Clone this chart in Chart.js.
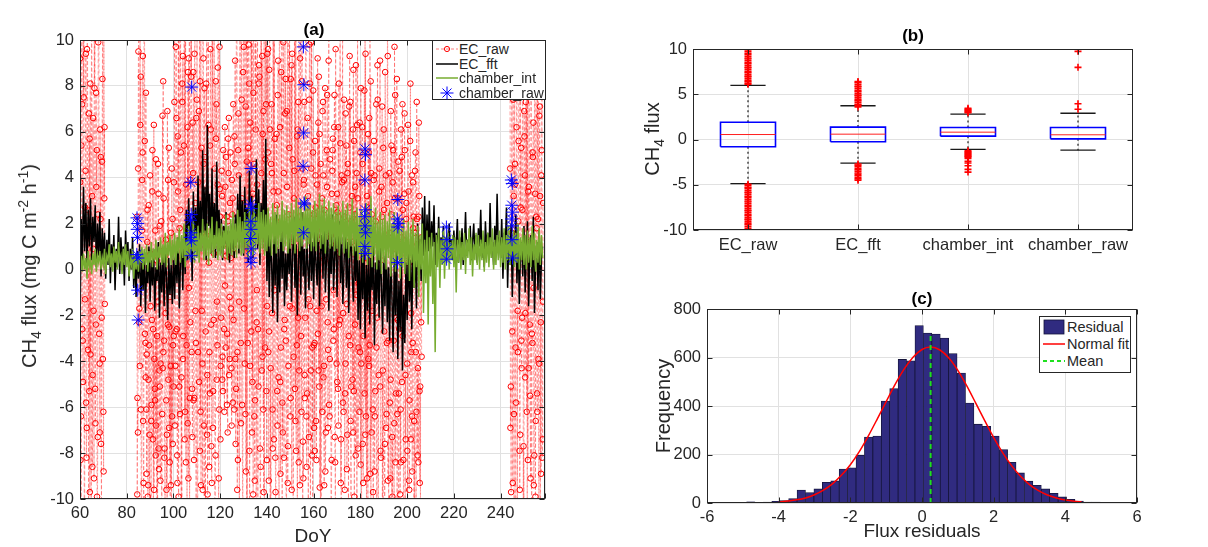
<!DOCTYPE html>
<html>
<head>
<meta charset="utf-8">
<script src="https://cdn.jsdelivr.net/npm/chart.js@4.4.1/dist/chart.umd.min.js"></script>
<style>
  html, body { margin: 0; padding: 0; background: #fff; }
  #fig { position: relative; width: 1208px; height: 547px; overflow: hidden;
         font-family: "Liberation Sans", Arial, Helvetica, sans-serif; color: #262626; }
  canvas { position: absolute; }
  .lbl { position: absolute; white-space: nowrap; line-height: 1; }
  .title { font-weight: bold; font-size: 17px; color: #000; transform: translate(-50%, -50%); }
  .xlab { font-size: 19px; transform: translate(-50%, -50%); }
  .ylab { font-size: 20px; transform: translate(-50%, -50%) rotate(-90deg); }
  .ylab sub, .ylab sup { font-size: 70%; line-height: 0; }
  .legend { position: absolute; background: #fff; border: 1px solid #262626; box-sizing: border-box; }
  .legend .row { position: absolute; left: 2px; display: flex; align-items: center; white-space: nowrap; }
  .legend svg { flex: none; }
</style>
</head>
<body>
<div id="fig">
  <canvas id="chartA" width="580" height="547" style="left:0;top:0"></canvas>
  <canvas id="chartB" width="608" height="280" style="left:600px;top:0"></canvas>
  <canvas id="chartC" width="608" height="267" style="left:600px;top:280px"></canvas>

  <div class="lbl title" style="left:314px;top:29px">(a)</div>
  <div class="lbl xlab" style="left:313px;top:535px">DoY</div>
  <div class="lbl ylab" style="left:29px;top:266px">CH<sub>4</sub> flux (mg C m<sup>-2</sup> h<sup>-1</sup>)</div>

  <div class="lbl title" style="left:913px;top:35px">(b)</div>
  <div class="lbl ylab" style="left:652px;top:139px">CH<sub>4</sub> flux</div>

  <div class="lbl title" style="left:922px;top:298px">(c)</div>
  <div class="lbl ylab" style="left:663px;top:406px">Frequency</div>
  <div class="lbl xlab" style="left:922px;top:530px">Flux residuals</div>

  <div class="legend" style="left:432px;top:40px;width:114px;height:60px;font-size:14px">
    <div class="row" style="top:0px;height:16px"><svg width="24" height="14"><line x1="1" y1="7" x2="23" y2="7" stroke="rgba(255,0,0,0.5)" stroke-dasharray="3,2"/><circle cx="12" cy="7" r="2.6" fill="none" stroke="#f00"/></svg><span>EC_raw</span></div>
    <div class="row" style="top:14.5px;height:16px"><svg width="24" height="14"><line x1="1" y1="7" x2="23" y2="7" stroke="#000" stroke-width="1.5"/></svg><span>EC_fft</span></div>
    <div class="row" style="top:29px;height:16px"><svg width="24" height="14"><line x1="1" y1="7" x2="23" y2="7" stroke="#77ac30" stroke-width="1.5"/></svg><span>chamber_int</span></div>
    <div class="row" style="top:43.5px;height:16px"><svg width="24" height="14"><g stroke="#0000ff" stroke-width="1"><line x1="12" y1="0.5" x2="12" y2="13.5"/><line x1="5.5" y1="7" x2="18.5" y2="7"/><line x1="7.5" y1="2.5" x2="16.5" y2="11.5"/><line x1="16.5" y1="2.5" x2="7.5" y2="11.5"/></g></svg><span>chamber_raw</span></div>
  </div>

  <div class="legend" style="left:1039px;top:316px;width:92px;height:57px;font-size:14.5px">
    <div class="row" style="top:2px"><svg width="25" height="16"><rect x="2" y="1" width="20" height="14" fill="#302b80" stroke="#15153a" stroke-width="0.8"/></svg><span>Residual</span></div>
    <div class="row" style="top:19px"><svg width="25" height="16"><line x1="1" y1="8" x2="23" y2="8" stroke="#ff0000" stroke-width="1.5"/></svg><span>Normal fit</span></div>
    <div class="row" style="top:36px"><svg width="25" height="16"><line x1="1" y1="8" x2="23" y2="8" stroke="#1fe01f" stroke-width="2" stroke-dasharray="4,3"/></svg><span>Mean</span></div>
  </div>
</div>

<script>
// ===== (a) time series, DoY 60-259 =====

// EC_raw: three interleaved sample sets, 0.4 day apart within each set, pieces start at these days
const RAW_STEP = 0.4;
const ecRawStart = [60.0, 84.4, 88.4, 100.4, 108.4, 120.4, 126.4, 140.4, 160.4, 180.4, 244.0];
const ecRawStart2 = [60.2, 84.6, 88.6, 100.6, 108.6, 120.6, 126.6, 140.6, 160.6, 180.6, 244.2];
const ecRawStart3 = [60.1, 84.5, 88.5, 100.5, 108.5, 120.5, 126.5, 140.5, 160.5, 180.5, 244.1];
const ecRawRows = [
  [9.2, -6.4, 14, -3.1, 7.5, -11, 4.3, -8.2, 12, 1.4, -5.3, 8.1, -13, 3.2, 6.6, -9.1, 11, -2.4, 5.2, -7.3, 15, -4.1, 2.2, -10.4, 8.3, -6.2, 3.1],
  [2.3, -7.1, 11, -4.2, 8.4, -12, 5.1, -9.3, 13, -3.2],
  [-6.1, 1.2, -9.4, -3.3, 4.1, -11, -2.2, -7.4, 6.3, -5.2, -8.1, 0.4, -12, 3.3, -4.4, -9.2, 2.1, -6.3, 8.2, -3.1, -10.2, 1.3, -7.2, -2.4, 5.3, -8.4, -4.2, -13, 2.2, -5.1],
  [7.3, -4.2, 12, -8.1, 3.4, 10.2, -6.3, 5.1, -11, 9.3, 1.2, -7.4, 14, -3.3, 6.2, -9.1, 11, -2.3, 8.4, -5.2],
  [4.2, -8.3, 10.1, -3.2, 7.4, -10.3, 2.1, 12, -6.2, 5.3, -4.1, 9.2, -12, 3.4, 8.1, -7.2, 11, 0.3, -5.4, 6.1, -9.3, 13, -2.2, 4.4, -8.1, 7.2, -3.3, 10.4, -6.1, 2.3],
  [-2.1, 3.2, -5.3, 1.1, 6.2, -3.4, 2.3, -7.1, 4.2, -1.2, 5.1, -4.3, 2.4, 7.2, -6.1],
  [9.1, -5.2, 13, -8.3, 4.1, 11, -3.2, 7.4, -10.1, 15, 2.2, -6.3, 10.2, -12, 5.3, 8.1, -4.2, 12, -7.1, 3.3, 14, -9.2, 6.1, -2.3, 11, -5.1, 8.4, -11, 4.2, 9.3, -6.1, 13, -3.4, 7.2, -8.3],
  [5.1, -9.2, 11, -4.3, 7.2, -6.1, 3.4, 12, -8.2, 2.1, -5.3, 9.1, -11, 6.2, -3.4, 10.3, -7.1, 4.2, -2.2, 8.3, -10.1, 13, -4.2, 5.3, -6.4, 1.2, 9.4, -12, 3.1, -5.2, 11, -3.3, 6.1, -8.4, 2.3, 10.1, -6.2, 4.4, -9.1, 7.3, -2.1, 12, -5.4, 3.2, -7.3, 8.1, -4.4, 14, -10.2, 2.4],
  [-3.2, 4.1, -8.3, 2.2, 6.4, -5.1, 1.3, -10.2, 3.1, 7.3, -4.2, 0.4, -7.1, 5.2, -2.3, 9.1, -6.4, 2.1, -11, 4.3, -3.1, 6.2, -8.4, 1.1, 3.3, -5.2, 8.1, -2.2, -9.3, 4.1, 11, -6.2, 2.3, -4.1, 5.4, -7.2, 1.2, 7.1, -3.3, -12, 3.2, 6.1, -5.3, 2.4, -8.1, 4.2, 10.1, -3.4, -6.2, 5.1],
  [-4.1, 6.2, -9.3, 2.1, 12, -6.4, 3.2, -11, 5.1, -3.3, 8.2, -7.1, 1.3, -10.2, 4.1, -5.3, 7.2, -2.1, -13, 3.4, 9.1, -8.2, 2.3, -4.4, 6.1, -12, 1.2, -6.3, 11, -3.1, 4.2, -9.1, 2.4, -7.3, 5.2, -11, 3.1, -5.4, 8.3, -2.2, -10.1, 4.3, -6.1, 1.4, 7.2, -8.3, 3.3, -12, 2.2, -4.1, 6.3, -9.2, 0.3, -7.4, 4.1, -3.2, 2.3, -10.3, 5.1, -6.2, 1.1, -8.4, 3.2, -5.1, -2.3],
  [8.2, -5.1, 12, -9.3, 3.2, 10.1, -3.4, 6.2, -11, 2.1, 14, -7.2, 5.3, -2.1, 9.2, -12, 4.1, 7.3, -6.2, 11, -4.3, 1.2, -9.1, 13, -3.2, 6.4, -8.1, 3.3, 10.2, -5.4, 2.2, -10.1, 7.1, -2.3, 5.2, -7.4]
];
const ecRawRows2 = [
  [-8.3, 5.4, -2.6, 10.5, -12, 2.7, -5.8, 9.6, -3.5, 6.8, -9.7, 1.9, 12.5, -4.6, -1.8, 7.9, -6.7, 3.6, -11.5, 9.9, -2.8, 6.1, -7.6, 4.7, -3.9, 11.2, -1.5],
  [-5.6, 9.5, -1.7, 6.3, -10.8, 3.9, -6.6, 12.3, -2.8, 7.7],
  [-3.7, -9.9, 2.8, -7.2, -1.6, -5.9, 5.2, -11.6, -3.9, 1.7, -6.8, -2.9, 4.6, -8.7, -5.1, 0.8, -12.4, -4.3, 3.1, -7.8, -1.9, -9.6, 6.9, -4.8, -2.5, -10.7, 1.6, -6.4, -3.3, 3.8],
  [-6.8, 9.7, -2.6, 5.8, -9.9, 1.8, 12.6, -4.7, 7.3, -2.9, 10.8, -6.2, 3.7, -11.8, 8.6, -0.8, -5.6, 13.4, -3.6, 6.4],
  [-5.7, 9.4, -1.8, 6.6, -11.6, 3.8, -4.9, 8.2, -9.4, 1.6, 11.7, -6.8, 4.9, -2.7, 12.8, -9.8, 6.3, -3.6, 9.6, -7.7, 2.8, -5.3, 10.6, -11.2, 5.7, -1.4, 8.8, -9.1, 3.5, -4.2],
  [4.3, -3.8, 1.7, -6.2, 3.6, 0.6, -2.8, 5.7, -4.6, 2.9, -1.7, 3.9, -5.8, 0.9, 4.6],
  [-7.6, 10.9, -3.6, 6.8, -12.4, 2.9, 11.7, -5.9, 8.6, -1.7, 13.6, -8.8, 4.7, -3.2, 9.8, -10.6, 1.8, 12.9, -4.9, 7.7, -6.4, 10.3, -11.9, 3.7, -2.6, 8.9, -7.8, 12.2, -4.4, 5.9, -9.7, 2.6, 11.6, -5.3, 9.4],
  [-3.6, 8.7, -10.8, 4.6, -1.9, 11.8, -7.4, 5.7, -12.6, 2.8, 7.6, -4.7, 12.4, -8.9, 1.7, -5.8, 9.9, -2.6, 6.8, -11.4, 3.6, -7.7, 10.7, -1.6, 8.3, -9.6, 4.8, -3.8, 12.7, -6.6, 1.9, -10.9, 7.3, -4.4, 9.2, -2.9, 11.4, -7.5, 3.9, -5.6, 10.5, -8.6, 6.6, -1.3, 9.8, -11.7, 4.4, -3.4, 7.8, -6.9],
  [5.6, -6.6, 3.7, -2.8, 8.4, -9.5, 4.6, -1.6, 6.9, -4.7, 2.6, -8.8, 1.4, 7.6, -3.5, -5.9, 4.8, -10.4, 3.3, 5.7, -2.6, -7.3, 9.6, -4.1, 2.5, -6.8, 0.7, 5.5, -11.7, 3.8, -1.9, 7.4, -5.4, 1.6, -8.7, 4.6, -2.9, 9.3, -6.6, 2.1, -4.8, 8.7, -9.9, 3.6, -1.1, 6.3, -7.8, 1.8, -3.6, 7.9],
  [3.8, -7.6, 1.6, -5.4, 9.4, -10.8, 2.7, -3.9, 6.6, -8.9, 4.2, -1.8, -9.7, 5.6, -6.4, 2.1, -12.2, 7.4, -4.6, 0.9, -7.9, 3.6, -10.6, 5.3, -2.7, 8.6, -6.9, 2.9, -9.2, 1.4, -5.8, 6.9, -11.6, 3.8, -3.1, 9.7, -8.4, 1.9, -6.3, 4.7, -2.6, -9.8, 6.1, -4.9, 2.6, -12.8, 5.2, -7.4, 0.6, -10.4, 3.4, -5.7, 8.1, -3.6, -8.8, 1.8, -6.6, 4.3, -11.3, 2.2, -4.3, 6.4, -9.3, 0.8, -3.8],
  [-6.9, 10.6, -2.7, 7.4, -10.3, 4.6, -5.8, 12.9, -3.6, 8.6, -9.6, 2.7, -4.3, 11.4, -7.7, 5.8, -1.9, 9.8, -11.8, 3.4, 7.6, -5.5, 12.1, -2.8, 4.9, -9.4, 10.7, -6.6, 1.8, 8.4, -3.9, 6.7, -11.1, 4.1, -8.2, 2.9]
];
const ecRawRows3 = [
  [3.8, -10.6, 7.2, -4.9, 12.7, -1.3, 9.4, -6.9, 2.6, -12.3, 5.7, -3.7, 10.8, -8.6, 0.9, 13.6, -5.2, 7.7, -9.9, 2.4, 11.4, -7.1, 4.9, -2.1, 13.9, -8.8, 6.2],
  [-9.8, 4.4, -2.3, 10.6, -6.1, 1.7, 9.3, -11.4, 5.6, -4.7],
  [-8.9, 2.6, -4.8, -10.9, 0.7, -6.6, 3.4, -2.6, -9.6, -5.7, 4.8, -11.3, -1.4, -7.8, 1.9, -4.1, -10.6, 6.7, -3.6, -8.2, 0.6, -5.7, -12.6, 3.9, -6.9, -1.2, -9.4, 4.4, -7.6, -2.9],
  [10.9, -2.7, 6.6, -9.3, 13.1, -5.1, 2.6, -12.7, 8.1, -3.9, 5.4, 11.9, -8.4, 1.6, -6.7, 9.2, -10.9, 3.9, 12.4, -7.3],
  [8.6, -5.6, 2.9, -10.9, 11.8, -3.6, 6.9, -7.9, 13.7, -1.8, -9.6, 4.6, 7.9, -12.2, 1.5, -4.6, 10.9, -8.6, 5.4, -2.4, 12.3, -6.9, 0.7, -10.4, 8.2, -4.8, 3.7, -11.6, 9.7, -7.4],
  [1.4, -4.8, 5.2, -2.6, -0.7, 4.9, -5.9, 2.1, 6.6, -3.9, 0.5, -6.8, 3.1, -2.2, 5.8],
  [-3.9, 12.4, -9.6, 5.2, -1.4, 14.2, -6.7, 3.1, -11.3, 9.7, -4.1, 7.1, -13.4, 11.6, 0.9, -7.9, 6.4, -2.7, 13.3, -9.8, 4.6, -5.7, 10.4, -0.9, -12.7, 8.1, 2.2, -8.6, 14.8, -3.8, 6.9, -10.9, 4.8, 11.8, -1.6],
  [9.6, -2.7, 6.1, -12.1, 4.2, -7.8, 12.9, -0.9, -9.7, 5.9, -6.8, 3.4, 11.2, -4.9, 8.6, -13.1, 1.9, -8.2, 10.4, -3.1, 6.9, -9.3, 2.4, 13.1, -5.6, 8.9, -1.7, -10.6, 4.3, 11.9, -7.9, 5.8, -2.1, 12.6, -9.4, 0.8, 8.2, -11.6, 3.7, -4.6, 10.8, -6.4, 2.7, -12.9, 7.4, -1.6, 9.9, -8.1, 5.1, -3.3],
  [-7.9, 2.7, -1.8, 9.2, -4.4, 5.9, -11.9, 0.6, -6.2, 4.1, -9.4, 7.9, -1.3, 3.6, -6.9, 10.4, -3.9, 1.5, -8.3, 5.2, -0.9, 7.6, -10.8, 2.8, -4.9, 6.2, -2.4, 12.1, -7.4, 1.9, -5.8, 3.9, -9.6, 6.8, -1.5, 4.2, -12.6, 2.7, 7.3, -5.1, 1.2, -7.1, 5.6, -2.4, 8.9, -10.7, 3.1, -0.6, 6.4, -8.5],
  [-11.4, 4.6, -2.9, 7.8, -7.2, 0.5, -9.1, 5.9, -4.2, 10.9, -12.6, 2.4, -6.1, 3.9, -8.8, 1.2, -3.4, 8.9, -10.1, 4.4, -5.1, 0.4, 7.1, -11.9, 2.6, -7.6, 4.1, -3.2, 9.3, -12.4, 1.6, -4.8, 5.4, -9.9, 0.9, -6.7, 7.6, -2.1, -11.2, 3.1, -5.4, 1.1, -8.4, 4.9, -2.9, -13.1, 6.8, -4.6, 2.9, -7.9, 0.3, -9.6, 5.6, -1.9, -6.4, 3.8, -10.9, 1.6, -3.6, 7.3, -8.1, 2.3, -5.3, -11.6, 1.4],
  [4.4, -9.7, 1.6, 11.8, -6.3, 3.7, -12.4, 8.9, -1.8, 5.6, -7.9, 13.4, -3.1, 2.6, -10.6, 6.9, -4.7, 0.9, 9.4, -8.3, 3.6, -2.4, 10.9, -12.1, 5.1, -0.8, 7.8, -9.9, 2.3, -6.2, 12.6, -4.1, 3.2, -8.9, 9.1, -1.4]
];

// EC_fft and chamber_int: one value every 0.5 day, each row covers 10 days from 60, 70, ...
const SERIES_STEP = 0.5;
const ecFftRows = [
  [-2.4, 2.2, 0.3, 3.6, 0.8, 2.9, 0.2, 2.6, 1.0, 3.1, 0.4, 2.3, 1.2, 2.8, 0.1, 2.0, 0.6, 2.5, -0.3, 1.8],
  [0.5, 1.6, -0.4, 1.3, 0.2, 2.2, -0.6, 1.1, 0.3, 1.5, -0.9, 0.9, 0.1, 2.3, -0.2, 1.4, 0.4, 1.0, -0.7, 1.7],
  [0.3, 1.2, -0.5, 0.9, 0.0, 1.4, -0.8, 0.6, -1.2, 0.8, -0.4, 1.1, -1.6, 0.3, -0.9, 0.7, -1.9, 0.2, -0.6, 1.0],
  [-1.4, 0.4, -0.7, 0.9, -1.8, 0.1, -0.5, 1.2, -2.1, 0.3, -1.0, 0.6, -1.6, 0.8, -0.3, -2.2, 0.5, -1.1, 0.2, -1.5],
  [0.6, -1.3, 1.0, -0.6, 1.4, -1.7, 0.3, 1.1, -0.9, 1.8, -0.2, 2.6, 0.4, 3.1, 0.9, 2.2, -0.5, 3.4, 1.0, 2.7],
  [0.6, 4.1, 1.3, 3.0, 0.8, 5.2, 1.6, 3.6, 0.4, 6.3, 1.9, 3.3, 0.7, 4.4, 1.2, 2.9, 0.5, 4.7, 1.4, 2.6],
  [0.8, 2.2, 0.4, 1.9, 1.1, 2.5, 0.6, 1.7, 0.3, 2.0, 0.9, 1.6, 0.5, 2.4, 1.2, 3.3, 0.7, 4.1, 1.5, 3.0],
  [0.6, 3.6, 1.8, 2.7, 0.3, 4.3, 1.1, 3.2, 0.5, 2.8, 1.4, 4.8, 0.9, 3.5, 0.2, 2.9, 1.6, 3.9, 0.8, 5.7],
  [-0.5, 2.1, -1.2, 1.4, 0.3, -1.9, 1.8, -0.7, 2.4, -2.3, 0.9, -1.0, 1.6, -0.4, 2.0, -1.6, 0.7, -0.9, 1.3, -0.2],
  [1.9, -1.4, 0.6, 2.3, -0.8, 1.1, -2.0, 0.4, 1.7, -1.1, 2.5, -0.3, 0.9, -1.7, 1.5, 0.1, -0.9, 2.0, -0.5, 1.2],
  [-1.3, 1.8, 0.2, -0.7, 2.2, -1.6, 0.8, 1.5, -0.4, 2.6, -1.0, 0.5, 1.9, -1.8, 1.1, -0.2, 2.4, -0.9, 0.6, 1.7],
  [-1.2, 0.9, 2.1, -0.6, 1.4, -1.5, 0.3, 2.0, -0.8, 1.2, -1.9, 0.7, 1.6, -0.3, -1.4, 1.0, -0.5, 1.8, -2.2, 0.4],
  [-2.6, 0.8, -1.3, 1.4, -3.0, 0.2, -1.8, 1.1, -2.4, 0.5, -0.9, 1.6, -3.3, 0.3, -1.5, 0.9, -2.1, 1.3, -0.7, -2.8],
  [0.6, -1.6, 1.2, -2.3, 0.1, -3.1, 0.9, -1.2, -3.6, 0.4, -2.0, 1.0, -3.9, -0.5, -2.7, 0.7, -4.4, -1.1, -3.2, 0.3],
  [-2.2, 1.1, -1.4, 0.4, -2.6, 1.5, -0.8, 0.9, -1.7, 2.0, 0.2, 1.3, -0.5, 2.7, 0.6, 3.2, 0.1, 2.4, 0.8, 3.0],
  [0.4, 2.1, 1.0, 2.8, 0.2, 1.6, 0.7, 2.3, 0.5, 1.4, 0.9, 1.9, 0.3, 1.2, 1.5, 0.6, 2.0, 0.8, 1.3, 0.4],
  [1.7, 0.5, 1.1, 2.2, 0.3, 1.4, 0.9, 1.8, 0.2, 1.0, 2.5, 0.6, 1.3, 0.8, 1.9, 0.4, 1.2, 2.0, 0.7, 1.5],
  [0.3, 1.8, 1.0, 2.6, 0.5, 1.3, 0.1, 2.1, 0.9, 1.6, 0.4, 2.9, 0.8, 1.2, 0.2, 1.9, 0.6, 3.3, 1.0, 1.4],
  [0.5, 2.2, -0.4, 1.6, 0.9, 2.7, -0.8, 1.3, 0.2, 2.0, -1.2, 1.0, 0.4, 2.4, -0.6, 1.8, -1.5, 0.7, 1.2, -0.3],
  [1.9, -1.0, 0.6, 2.1, -1.6, 0.8, 1.5, -0.5, 2.3, -1.9, 0.4, 1.2, -0.9, 1.7, -1.3, 0.5, 1.0]
];
const chamberIntRows = [
  [-0.3, 0.6, -0.1, 0.7, 0.0, 0.5, -0.4, 0.8, 0.1, 0.4, -0.2, 0.7, 0.2, 0.9, -0.1, 0.6, 0.3, 0.8, 0.0, 0.5],
  [0.2, 0.9, -0.2, 0.6, 0.4, 1.1, 0.1, 0.7, -0.1, 1.0, 0.3, 0.8, 0.0, 1.2, 0.4, 0.6, -0.2, 0.9, 0.2, 1.1],
  [0.1, 0.8, -0.3, 0.5, 0.2, 0.9, -0.4, 0.6, 0.0, 0.7, -0.1, 0.8, 0.3, 1.0, 0.0, 0.9, 0.2, 1.1, -0.1, 0.8],
  [0.3, 1.2, 0.1, 0.9, 0.4, 1.3, 0.0, 1.0, 0.5, 1.4, 0.2, 1.1, 0.3, 1.6, 0.1, 1.2, 0.6, 1.5, 0.2, 1.3],
  [0.4, 1.6, 0.2, 1.4, 0.7, 1.8, 0.3, 1.5, 0.5, 2.0, 0.1, 1.3, 0.6, 1.9, 0.4, 1.6, 0.8, 2.1, 0.3, 1.7],
  [0.5, 1.9, 0.3, 1.6, 0.8, 2.2, 0.4, 1.7, 0.6, 2.0, 0.2, 1.8, 0.7, 2.3, 0.5, 1.5, 0.9, 2.1, 0.4, 1.8],
  [0.6, 2.0, 0.5, 1.7, 0.9, 2.4, 0.4, 1.9, 0.7, 2.2, 0.6, 2.5, 0.8, 2.0, 0.5, 2.6, 0.9, 2.3, 0.6, 2.1],
  [0.7, 2.5, 0.9, 2.2, 0.5, 2.8, 1.0, 2.4, 0.6, 2.7, 0.8, 2.3, 1.1, 2.9, 0.7, 2.5, 0.9, 2.6, 0.6, 2.4],
  [0.8, 2.7, 1.0, 2.3, 0.6, 2.9, 1.1, 2.5, 0.7, 2.8, 0.9, 2.4, 1.2, 3.0, 0.8, 2.6, 1.0, 2.8, 0.7, 2.5],
  [0.9, 2.9, 1.1, 2.6, 0.7, 3.1, 1.2, 2.7, 0.8, 3.0, 1.0, 2.5, 1.3, 3.2, 0.9, 2.8, 1.1, 2.9, 0.8, 2.6],
  [1.0, 3.0, 0.8, 2.7, 1.2, 3.3, 0.9, 2.8, 1.1, 3.1, 0.7, 2.6, 1.3, 3.0, 0.9, 2.7, 1.0, 2.9, 0.8, 2.5],
  [0.9, 2.8, 0.6, 2.5, 1.1, 3.0, 0.7, 2.6, 0.9, 2.9, 0.5, 2.4, 1.0, 3.1, 0.6, 2.5, 0.8, 2.7, 0.4, 2.3],
  [0.6, 2.6, 0.3, 2.2, 0.8, 2.9, 0.2, 2.4, 0.5, 3.2, 0.1, 2.3, 0.6, 2.7, 0.0, 2.1, 0.4, 2.5, -0.2, 2.2],
  [0.3, 2.4, 0.0, 2.1, 0.5, 2.6, -0.3, 2.0, 0.2, 2.5, -0.1, 1.9, 0.4, 2.3, -0.4, 1.8, 0.1, 2.2, -0.2, 1.7],
  [0.2, 2.1, -0.5, 1.8, 0.3, 2.2, -0.8, 1.6, 0.1, 1.9, -1.2, 1.5, 0.0, 2.0, -1.9, 1.3, -0.6, 1.7, -2.4, 1.4],
  [-0.3, 1.6, -1.5, 1.2, -3.6, 1.5, 0.1, 1.8, -0.8, 1.3, 0.2, 1.7, -0.4, 1.4, 0.3, 1.6, 0.0, 1.2, 0.4, 1.5],
  [0.1, 1.4, -1.0, 1.3, 0.3, 1.7, 0.0, 1.2, 0.4, 1.6, -0.2, 1.3, 0.5, 1.8, 0.2, 1.4, -0.3, 1.1, 0.4, 1.6],
  [0.2, 1.5, 0.0, 1.3, 0.4, 1.7, -0.1, 1.2, 0.3, 1.6, 0.1, 1.4, 0.5, 1.8, 0.0, 1.3, 0.2, 1.5, 0.4, 1.7],
  [0.1, 1.4, 0.3, 1.8, 0.0, 1.5, 0.4, 1.9, 0.2, 1.3, 0.5, 1.7, 0.1, 1.6, 0.3, 2.0, 0.0, 1.4, 0.4, 1.8],
  [0.2, 1.5, 0.0, 1.7, 0.3, 1.4, 0.1, 1.9, 0.4, 1.6, -0.1, 1.3, 0.3, 1.8, 0.2, 1.5, 0.5]
];

// chamber_raw: individual chamber measurements
const chamberDays = [84.4, 84.7, 84.5, 84.6, 84.3, 84.8, 84.7, 84.9,
  107.8, 107.4, 107.6, 107.3, 107.5, 107.2, 107.7, 107.5,
  133.2, 133.0, 133.3, 133.1, 133.2, 133.0, 133.3, 133.1, 133.2,
  155.6, 155.8, 155.7, 155.5, 155.9, 156.1, 155.7,
  182.0, 182.2, 181.9, 182.1, 181.8, 182.0, 182.2, 181.9, 182.1,
  196.0, 195.8, 196.2, 196.0, 195.9,
  216.8, 217.0, 217.1, 216.9,
  244.6, 245.0, 244.8, 245.1, 244.7, 245.0, 244.9, 245.1];
const chamberFlux = [2.25, 2.0, 1.75, 1.4, 0.65, 0.5, -0.9, -2.2,
  7.95, 3.8, 2.4, 2.15, 1.6, 1.4, 1.25, 0.6,
  4.4, 2.85, 2.65, 2.1, 1.75, 1.35, 0.9, 0.5, 0.3,
  9.7, 8.05, 5.95, 4.5, 2.9, 2.85, 1.6,
  5.25, 5.0, 3.9, 2.6, 2.3, 1.9, 1.6, 1.0, 0.7,
  3.05, 2.2, 2.0, 1.85, 0.3,
  1.85, 1.3, 0.9, 0.45,
  3.9, 3.75, 2.8, 2.5, 2.2, 1.9, 1.3, 0.5];

// ===== (b) box plot =====
const boxCats = ["EC_raw", "EC_fft", "chamber_int", "chamber_raw"];
const boxQ1 = [-0.8, -0.25, 0.37, 0.07];
const boxMed = [0.55, 0.59, 0.81, 0.52];
const boxQ3 = [1.9, 1.37, 1.33, 1.33];
const boxLow = [-4.87, -2.62, -1.1, -1.18];
const boxHigh = [5.98, 3.73, 2.8, 2.9];
const outEcRaw = [6.1, 6.2, 6.4, 6.5, 6.7, 6.9, 7.0, 7.2, 7.4, 7.5, 7.7, 7.9, 8.0, 8.2, 8.4, 8.5, 8.7, 8.9, 9.0, 9.2, 9.4, 9.5, 9.7, 9.9, 10.0,
  -4.95, -5.1, -5.3, -5.4, -5.6, -5.8, -5.9, -6.1, -6.3, -6.4, -6.6, -6.8, -6.9, -7.1, -7.3, -7.4, -7.6, -7.8, -7.9, -8.1, -8.3, -8.4, -8.6, -8.8, -8.9, -9.1, -9.3, -9.4, -9.6, -9.8, -10.0];
const outEcFft = [3.6, 3.8, 3.9, 4.1, 4.3, 4.4, 4.6, 4.8, 4.9, 5.1, 5.3, 5.4, 5.6, 5.8, 5.9, 6.1, 6.3, 6.4,
  -2.7, -2.85, -3.0, -3.2, -3.35, -3.5, -3.7, -3.85, -4.0, -4.2, -4.35, -4.5];
const outChamberInt = [2.95, 3.05, 3.15, 3.25, 3.35, 3.45,
  -1.25, -1.35, -1.45, -1.55, -1.65, -1.75, -1.85, -1.95, -2.1, -2.4, -2.6, -2.9, -3.3, -3.6];
const outChamberRaw = [3.35, 3.95, 7.97, 9.74];

// ===== (c) histogram of residuals =====
const binCenters = [-5.484, -5.249, -5.014, -4.779, -4.544, -4.309, -4.074, -3.839, -3.604, -3.369,
  -3.134, -2.899, -2.664, -2.429, -2.194, -1.959, -1.724, -1.489, -1.254, -1.019,
  -0.784, -0.549, -0.314, -0.079, 0.157, 0.392, 0.627, 0.862, 1.097, 1.332,
  1.567, 1.802, 2.037, 2.272, 2.507, 2.742, 2.977, 3.212, 3.447, 3.682,
  3.917, 4.152, 4.387, 4.622, 4.857, 5.092, 5.327, 5.562, 5.797];
const binCounts = [1, 2, 2, 5, 2, 4, 7, 10, 18, 53,
  43, 58, 85, 91, 140, 145, 197, 272, 276, 420,
  472, 592, 586, 732, 701, 697, 680, 616, 536, 412,
  325, 316, 276, 220, 168, 124, 90, 73, 58, 40,
  25, 15, 8, 4, 4, 2, 1, 1, 2];
// red curve
const fitX = [-4.0, -3.75, -3.5, -3.25, -3.0, -2.75, -2.5, -2.25, -2.0, -1.75, -1.5, -1.25, -1.0, -0.75, -0.5, -0.25, 0.0, 0.24,
  0.5, 0.75, 1.0, 1.25, 1.5, 1.75, 2.0, 2.25, 2.5, 2.75, 3.0, 3.25, 3.5, 3.75, 4.0, 4.25, 4.45];
const fitY = [4, 8, 13, 21, 34, 53, 79, 114, 158, 212, 276, 346, 418, 489, 552, 601, 633, 643,
  631, 598, 547, 483, 412, 340, 270, 208, 154, 110, 76, 51, 33, 21, 12, 7, 5];
const meanResidual = 0.24;
const meanTop = 700;

// ===== style / helpers =====
const TXT = "#262626";
const FONT = "'Liberation Sans', Arial, Helvetica, sans-serif";
Chart.defaults.font.family = FONT;
Chart.defaults.color = TXT;
const GRID = "#e1e1e1";

// axis box + inward tick marks like the original plots
const framePlugin = {
  id: "frame",
  afterDraw(chart) {
    const { ctx, chartArea: a, scales } = chart;
    const L = Math.round(a.left) + 0.5, R = Math.round(a.right) - 0.5;
    const T = Math.round(a.top) + 0.5, B = Math.round(a.bottom) - 0.5;
    ctx.save();
    ctx.strokeStyle = TXT;
    ctx.lineWidth = 1;
    ctx.strokeRect(L, T, R - L, B - T);
    ctx.beginPath();
    scales.x.ticks.forEach(t => {
      const p = Math.round(scales.x.getPixelForValue(t.value)) + 0.5;
      ctx.moveTo(p, B); ctx.lineTo(p, B - 5);
      ctx.moveTo(p, T); ctx.lineTo(p, T + 5);
    });
    scales.y.ticks.forEach(t => {
      const p = Math.round(scales.y.getPixelForValue(t.value)) + 0.5;
      ctx.moveTo(L, p); ctx.lineTo(L + 5, p);
      ctx.moveTo(R, p); ctx.lineTo(R - 5, p);
    });
    ctx.stroke();
    ctx.restore();
  }
};

function tickFont() { return { size: 16.5, family: FONT }; }

function rowsToPoints(rows, firstDay, rowSpan, step) {
  const pts = [];
  rows.forEach((row, r) => row.forEach((v, i) => pts.push({ x: +(firstDay + r * rowSpan + i * step).toFixed(2), y: v })));
  return pts;
}

// merge the EC_raw sets in time order, break the line where there is no data
function ecRawPoints() {
  const all = [];
  [[ecRawStart, ecRawRows], [ecRawStart2, ecRawRows2], [ecRawStart3, ecRawRows3]].forEach(([starts, rows]) => {
    rows.forEach((row, r) => row.forEach((v, i) => all.push({ x: +(starts[r] + i * RAW_STEP).toFixed(2), y: v })));
  });
  all.sort((a, b) => a.x - b.x);
  const pts = [];
  all.forEach(p => {
    if (pts.length && p.x - pts[pts.length - 1].x > 2) pts.push({ x: p.x - 1, y: null });
    pts.push(p);
  });
  return pts;
}

const commonOpts = {
  responsive: false,
  animation: false,
  devicePixelRatio: 1,
  events: [],
  plugins: { legend: { display: false }, tooltip: { enabled: false } }
};

// =========================
// Chart (a)
// =========================
new Chart(document.getElementById("chartA"), {
  type: "scatter",
  data: {
    datasets: [
      {
        label: "EC_raw", data: ecRawPoints(), showLine: true, order: 4,
        borderColor: "rgba(255,40,40,0.42)", borderWidth: 1, borderDash: [4, 2],
        pointRadius: 2.8, pointBorderColor: "#ff0000", pointBorderWidth: 1,
        pointBackgroundColor: "rgba(0,0,0,0)"
      },
      {
        label: "EC_fft", data: rowsToPoints(ecFftRows, 60, 10, SERIES_STEP), showLine: true, order: 3,
        borderColor: "#000000", borderWidth: 1.5, pointRadius: 0
      },
      {
        label: "chamber_int", data: rowsToPoints(chamberIntRows, 60, 10, SERIES_STEP), showLine: true, order: 2,
        borderColor: "#77ac30", borderWidth: 1.5, pointRadius: 0
      },
      {
        label: "chamber_raw", data: chamberDays.map((d, i) => ({ x: d, y: chamberFlux[i] })), order: 1,
        pointStyle: "star", pointRadius: 6.5, pointBorderColor: "#0000ff", pointBorderWidth: 1,
        pointBackgroundColor: "#0000ff"
      }
    ]
  },
  options: {
    ...commonOpts,
    layout: { padding: { left: 30, right: 35, top: 40, bottom: 22 } },
    scales: {
      x: {
        type: "linear", min: 60, max: 259,
        ticks: { stepSize: 20, padding: 5, font: tickFont(), color: TXT,
                 callback: v => (v <= 240 ? v : "") },
        grid: { color: GRID, drawTicks: false }, border: { display: false },
        afterFit: s => { s.height = 26; }
      },
      y: {
        min: -10, max: 10,
        ticks: { stepSize: 2, padding: 6, font: tickFont(), color: TXT },
        grid: { color: GRID, drawTicks: false }, border: { display: false },
        afterFit: s => { s.width = 50; }
      }
    }
  },
  plugins: [framePlugin]
});

// =========================
// Chart (b) box plot
// =========================
const BOX_HALF = 0.25;
const CAP_HALF = 0.16;
const boxPos = boxCats.map((c, i) => i + 1);
const outliers = [outEcRaw, outEcFft, outChamberInt, outChamberRaw];

const boxLines = [], medLines = [], whiskLines = [], capLines = [], outPts = [];
boxPos.forEach((p, i) => {
  boxLines.push({ x: p - BOX_HALF, y: boxQ1[i] }, { x: p + BOX_HALF, y: boxQ1[i] },
                { x: p + BOX_HALF, y: boxQ3[i] }, { x: p - BOX_HALF, y: boxQ3[i] },
                { x: p - BOX_HALF, y: boxQ1[i] }, { x: p, y: null });
  medLines.push({ x: p - BOX_HALF, y: boxMed[i] }, { x: p + BOX_HALF, y: boxMed[i] }, { x: p, y: null });
  whiskLines.push({ x: p, y: boxQ3[i] }, { x: p, y: boxHigh[i] }, { x: p, y: null },
                  { x: p, y: boxQ1[i] }, { x: p, y: boxLow[i] }, { x: p, y: null });
  capLines.push({ x: p - CAP_HALF, y: boxHigh[i] }, { x: p + CAP_HALF, y: boxHigh[i] }, { x: p, y: null },
                { x: p - CAP_HALF, y: boxLow[i] }, { x: p + CAP_HALF, y: boxLow[i] }, { x: p, y: null });
  outliers[i].forEach(v => outPts.push({ x: p, y: v }));
});

new Chart(document.getElementById("chartB"), {
  type: "scatter",
  data: {
    datasets: [
      { data: outPts, order: 1, pointStyle: "cross", pointRadius: 3.5, pointBorderWidth: 1.6,
        pointBorderColor: "#ff0000" },
      { data: capLines, order: 2, showLine: true, pointRadius: 0, borderColor: "#1a1a1a", borderWidth: 1.3 },
      { data: medLines, order: 3, showLine: true, pointRadius: 0, borderColor: "#ff2020", borderWidth: 1 },
      { data: boxLines, order: 4, showLine: true, pointRadius: 0, borderColor: "#0000ff", borderWidth: 1.6 },
      { data: whiskLines, order: 5, showLine: true, pointRadius: 0, borderColor: "#1a1a1a", borderWidth: 1.2,
        borderDash: [2, 3] }
    ]
  },
  options: {
    ...commonOpts,
    layout: { padding: { left: 57, right: 75, top: 49, bottom: 24 } },
    scales: {
      x: {
        type: "linear", min: 0.5, max: 4.5,
        afterBuildTicks: s => { s.ticks = boxPos.map(v => ({ value: v })); },
        ticks: { padding: 6, font: tickFont(), color: TXT, callback: v => boxCats[v - 1] },
        grid: { color: GRID, drawTicks: false }, border: { display: false },
        afterFit: s => { s.height = 26; }
      },
      y: {
        min: -10, max: 10,
        ticks: { stepSize: 5, padding: 6, font: tickFont(), color: TXT },
        grid: { color: GRID, drawTicks: false }, border: { display: false },
        afterFit: s => { s.width = 36; }
      }
    }
  },
  plugins: [framePlugin]
});

// =========================
// Chart (c) histogram
// =========================
new Chart(document.getElementById("chartC"), {
  type: "bar",
  data: {
    datasets: [
      {
        type: "line", data: [{ x: meanResidual, y: 0 }, { x: meanResidual, y: meanTop }], order: 1,
        borderColor: "#1fe01f", borderWidth: 2, borderDash: [5, 4], pointRadius: 0
      },
      {
        type: "line", data: fitX.map((x, i) => ({ x, y: fitY[i] })), order: 2,
        borderColor: "#ff0000", borderWidth: 1.5, pointRadius: 0, tension: 0.3
      },
      {
        type: "bar", data: binCenters.map((x, i) => ({ x, y: binCounts[i] })), order: 3,
        backgroundColor: "#302b80", borderColor: "#15153a", borderWidth: 0.8,
        barPercentage: 1, categoryPercentage: 1
      }
    ]
  },
  options: {
    ...commonOpts,
    layout: { padding: { left: 67, right: 71, top: 29, bottom: 18 } },
    scales: {
      x: {
        type: "linear", min: -6, max: 6, offset: false,
        ticks: { stepSize: 2, padding: 5, font: tickFont(), color: TXT },
        grid: { color: GRID, drawTicks: false, offset: false }, border: { display: false },
        afterFit: s => { s.height = 26; }
      },
      y: {
        min: 0, max: 800,
        ticks: { stepSize: 200, padding: 6, font: tickFont(), color: TXT },
        grid: { color: GRID, drawTicks: false }, border: { display: false },
        afterFit: s => { s.width = 40; }
      }
    }
  },
  plugins: [framePlugin]
});
</script>
</body>
</html>
